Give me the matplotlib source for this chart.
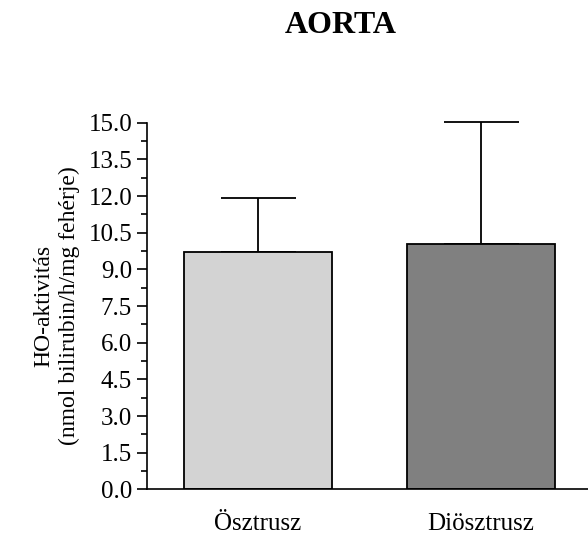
import numpy as np
import matplotlib
matplotlib.use("Agg")
import matplotlib.pyplot as plt
from matplotlib.ticker import MultipleLocator

# data
groups = ["Ösztrusz", "Diösztrusz"]
means = [9.72, 10.02]
errors = [2.21, 5.0]
colors = ["#d3d3d3", "#808080"]

plt.rcParams["font.family"] = ["Liberation Serif", "DejaVu Serif"]

fig = plt.figure(figsize=(5.88, 5.34), dpi=100)
ax = fig.add_axes([0.2495, 0.0837, 0.7505, 0.6863])

x = np.arange(len(groups))
ax.bar(x, means, width=0.664, color=colors, edgecolor="black", linewidth=1.3, zorder=2)
# only the upper half of the error bar is shown
eb = ax.errorbar(x, means, yerr=[np.zeros(len(errors)), errors], fmt="none",
                 ecolor="black", elinewidth=1.3, capsize=27, capthick=1.3, zorder=1)
for art in eb.lines[1] + eb.lines[2]:
    art.set_clip_on(False)

ax.set_xlim(-0.498, 1.48)
ax.set_ylim(0, 15)
ax.yaxis.set_major_locator(MultipleLocator(1.5))
ax.yaxis.set_minor_locator(MultipleLocator(0.75))
ax.yaxis.set_major_formatter(matplotlib.ticker.FormatStrFormatter("%.1f"))
ax.set_xticks(x)
ax.set_xticklabels(groups, fontsize=18)

for s in ["top", "right"]:
    ax.spines[s].set_visible(False)
for s in ["left", "bottom"]:
    ax.spines[s].set_linewidth(1.2)

ax.tick_params(axis="y", which="major", length=7, width=1.2, pad=3.5, labelsize=18)
ax.tick_params(axis="y", which="minor", length=4, width=1.2)
ax.tick_params(axis="x", length=0, pad=17)

ax.set_ylabel("HO-aktivitás\n(nmol bilirubin/h/mg fehérje)", fontsize=17, labelpad=6,
              linespacing=1.25)

fig.text(340.5 / 588, 1 - 25.5 / 534, "AORTA", fontsize=23, fontweight="bold",
         ha="center", va="center")

fig.savefig("out.png", dpi=100)
